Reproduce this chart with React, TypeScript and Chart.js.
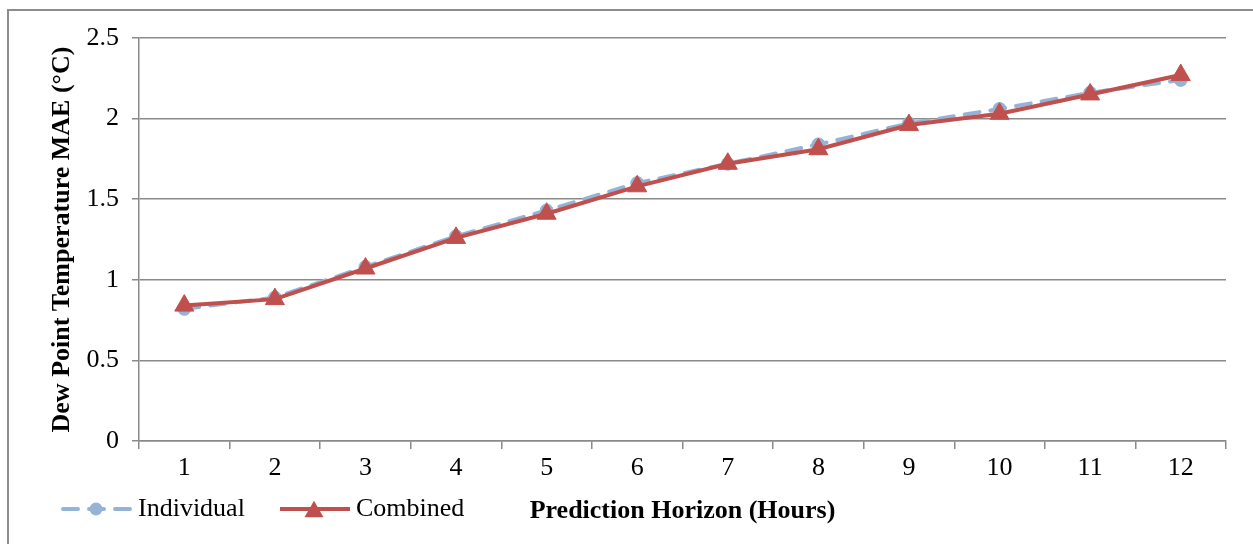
import React, { useEffect, useRef } from "react";
import { Chart, registerables } from "chart.js";

Chart.register(...registerables);

const hours = ["1", "2", "3", "4", "5", "6", "7", "8", "9", "10", "11", "12"];
const individual = [0.82, 0.89, 1.08, 1.27, 1.43, 1.6, 1.72, 1.84, 1.97, 2.06, 2.16, 2.24];
const combined = [0.84, 0.88, 1.07, 1.26, 1.41, 1.58, 1.72, 1.81, 1.96, 2.03, 2.15, 2.27];
const yMin = 0;
const yMax = 2.5;
const yStep = 0.5;
const seriesNames = ["Individual", "Combined"];
const xTitle = "Prediction Horizon (Hours)";
const yTitle = "Dew Point Temperature MAE (°C)";

const FONT = "'Liberation Serif', 'Times New Roman', serif";
const BLUE = "#95B3D7";
const RED = "#C0504D";
const GRID = "#8a8a8a";

const framePlugin = {
  id: "frameAndLegend",
  beforeDraw(chart: any) {
    const ctx = chart.ctx;
    ctx.save();
    ctx.strokeStyle = "#8c8c8c";
    ctx.lineWidth = 2;
    ctx.beginPath();
    ctx.moveTo(8, 560);
    ctx.lineTo(8, 10);
    ctx.lineTo(1270, 10);
    ctx.stroke();
    ctx.restore();
  },
  afterDraw(chart: any) {
    const ctx = chart.ctx;
    const y = 509;
    ctx.save();
    // Individual
    ctx.strokeStyle = BLUE;
    ctx.lineWidth = 4;
    ctx.lineCap = "round";
    ctx.setLineDash([15, 11]);
    ctx.beginPath();
    ctx.moveTo(63, y);
    ctx.lineTo(132, y);
    ctx.stroke();
    ctx.setLineDash([]);
    ctx.fillStyle = BLUE;
    ctx.beginPath();
    ctx.arc(96, y, 6.5, 0, Math.PI * 2);
    ctx.fill();
    // Combined
    ctx.strokeStyle = RED;
    ctx.lineCap = "butt";
    ctx.beginPath();
    ctx.moveTo(280, y);
    ctx.lineTo(350, y);
    ctx.stroke();
    ctx.fillStyle = RED;
    const r = 11;
    ctx.beginPath();
    ctx.moveTo(314, y - r * 0.75);
    ctx.lineTo(314 + r * 0.866, y + r * 0.75);
    ctx.lineTo(314 - r * 0.866, y + r * 0.75);
    ctx.closePath();
    ctx.fill();
    // text
    ctx.fillStyle = "#000";
    ctx.font = `26px ${FONT}`;
    ctx.textBaseline = "middle";
    ctx.textAlign = "left";
    ctx.fillText(seriesNames[0], 138, y);
    ctx.fillText(seriesNames[1], 356, y);
    ctx.restore();
  },
};

export default function App() {
  const ref = useRef<HTMLCanvasElement>(null);

  useEffect(() => {
    if (!ref.current) return;
    const chart = new Chart(ref.current, {
      type: "line",
      data: {
        labels: hours,
        datasets: [
          {
            label: seriesNames[0],
            data: individual,
            borderColor: BLUE,
            backgroundColor: BLUE,
            borderWidth: 4,
            borderDash: [15, 11],
            borderCapStyle: "round",
            pointStyle: "circle",
            pointRadius: 6.5,
            pointBackgroundColor: BLUE,
            pointBorderColor: BLUE,
            pointBorderWidth: 1,
            tension: 0,
            order: 1,
          },
          {
            label: seriesNames[1],
            data: combined,
            borderColor: RED,
            backgroundColor: RED,
            borderWidth: 4,
            pointStyle: "triangle",
            pointRadius: 11,
            pointBackgroundColor: RED,
            pointBorderColor: RED,
            pointBorderWidth: 1,
            tension: 0,
            order: 0,
          },
        ],
      },
      options: {
        responsive: false,
        animation: false,
        layout: { padding: { left: 47, right: 27, top: 38, bottom: 0 } },
        plugins: {
          legend: { display: false },
          tooltip: { enabled: false },
        },
        scales: {
          x: {
            type: "category",
            offset: true,
            grid: {
              offset: true,
              drawOnChartArea: false,
              drawTicks: true,
              tickLength: 8,
              color: GRID,
              lineWidth: 1.5,
            },
            border: { display: true, color: GRID, width: 1.5 },
            ticks: {
              color: "#000",
              font: { family: FONT, size: 26 },
              padding: 4,
              maxRotation: 0,
              autoSkip: false,
            },
            title: {
              display: true,
              text: xTitle,
              color: "#000",
              font: { family: FONT, size: 26, weight: "bold" },
              padding: { top: 0, bottom: 17 },
            },
            afterFit(scale: any) {
              scale.height = 103;
            },
          },
          y: {
            min: yMin,
            max: yMax,
            grid: {
              color: GRID,
              lineWidth: 1.5,
              drawTicks: true,
              tickLength: 7,
            },
            border: { display: true, color: GRID, width: 1.5 },
            ticks: {
              stepSize: yStep,
              color: "#000",
              font: { family: FONT, size: 26 },
              padding: 13,
              callback: (v: any) => String(Number(v)),
            },
            title: {
              display: true,
              text: yTitle,
              color: "#000",
              font: { family: FONT, size: 26, weight: "bold" },
              padding: 0,
            },
            afterFit(scale: any) {
              scale.width = 92;
            },
          },
        },
      },
      plugins: [framePlugin],
    });
    return () => chart.destroy();
  }, []);

  return (
    <div style={{ position: "absolute", left: 0, top: 0, width: 1253, height: 544, background: "#fff" }}>
      <canvas ref={ref} width={1253} height={544} style={{ display: "block" }} />
    </div>
  );
}
